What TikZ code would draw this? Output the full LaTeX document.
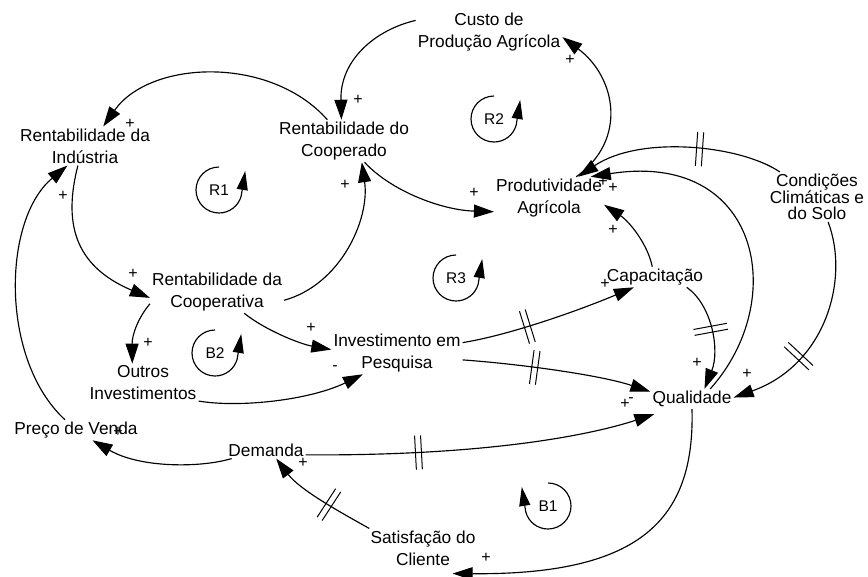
\documentclass[tikz,border=0pt]{standalone}
\usepackage{fontspec}
\setmainfont{Liberation Sans}
\usepackage{tikz}
\usetikzlibrary{arrows.meta}
\usetikzlibrary{decorations.markings}

\begin{document}
\begin{tikzpicture}[x=1pt, y=1pt,
    var/.style={inner sep=2pt, align=center, font=\fontsize{17.3}{22}\selectfont},
    sign/.style={inner sep=0pt, font=\fontsize{16}{18}\selectfont},
    looplabel/.style={inner sep=0pt, font=\fontsize{15.5}{18}\selectfont},
    link/.style={line width=1.15pt, -{Triangle[length=20pt, width=13pt]}},
    loopline/.style={line width=1.15pt, -{Triangle[length=19pt, width=11pt]}},
    delaymark/.style={postaction={decorate, decoration={markings,
        mark=at position #1 with {\draw[-, line width=1pt] (-3,-17) -- (-3,17) (3,-17) -- (3,17);}}}}]

    \fill[white] (0,0) rectangle (868,-576);
    \useasboundingbox (0,0) rectangle (868,-576);

    \node[var] (ind) at (85,-146) {Rentabilidade da\\Indústria};
    \node[var] (coop) at (344,-141) {Rentabilidade do\\Cooperado};
    \node[var] (custo) at (489,-32) {Custo de\\Produção Agrícola};
    \node[var] (prod) at (549,-198) {Produtividade\\Agrícola};
    \node[var, font=\fontsize{17.3}{16.5}\selectfont] (clima) at (817,-197) {Condições\\Climáticas e\\do Solo};
    \node[var] (coopva) at (217,-292) {Rentabilidade da\\Cooperativa};
    \node[var] (outros) at (143,-383) {Outros\\Investimentos};
    \node[var] (pesq) at (397,-353) {Investimento em\\Pesquisa};
    \node[var] (capac) at (655,-277) {Capacitação};
    \node[var] (qual) at (692,-399) {Qualidade};
    \node[var] (preco) at (76,-430) {Preço de Venda};
    \node[var] (dem) at (266,-450) {Demanda};
    \node[var] (sat) at (423,-548) {Satisfação do\\Cliente};

    \draw[link] (coop.128) .. controls (270,-55) and (150,-60) .. (ind.47);
    \draw[link] (custo.171) .. controls (375,-30) and (340,-60) .. (coop.97);
    \draw[link] (prod.38) .. controls (628,-140) and (616,-77) .. (custo.-4);
    \draw[link] (ind.250) .. controls (64,-220) and (72,-265) .. (coopva.185);
    \draw[link] (preco.137) .. controls (0,-360) and (2,-220) .. (ind.228);
    \draw[link] (coopva.353) .. controls (340,-285) and (370,-220) .. (coop.310);
    \draw[link] (coop.314) .. controls (390,-190) and (440,-210) .. (prod.194);
    \draw[link] (coopva.190) .. controls (138,-318) and (132,-335) .. (outros.119);
    \draw[link] (coopva.322) .. controls (265,-330) and (300,-344) .. (pesq.177);
    \draw[link] (outros.342) .. controls (240,-408) and (310,-400) .. (pesq.212);
    \draw[link, delaymark=0.37] (pesq.9) .. controls (510,-335) and (580,-310) .. (capac.206);
    \draw[link, delaymark=0.38] (pesq.354) .. controls (520,-364) and (600,-375) .. (qual.170);
    \draw[link, delaymark=0.32] (dem.353) .. controls (500,-456) and (600,-432) .. ([shift={(4,-5)}]qual.south west);
    \draw[link] (capac.105) .. controls (648,-245) and (630,-222) .. (prod.353);
    \draw[link, delaymark=0.45] (capac.342) .. controls (712,-305) and (720,-350) .. (qual.39);
    \draw[link] (qual.29) .. controls (790,-300) and (760,-150) .. (prod.27);
    \draw[link, delaymark=0.4] (clima.146) .. controls (740,-145) and (640,-135) .. (prod.36);
    \draw[link, delaymark=0.65] (clima.294) .. controls (850,-280) and (825,-365) .. (qual.2);
    \draw[link] (qual.270) .. controls (695,-520) and (640,-575) .. ([shift={(-25,-6)}]sat.south east);
    \draw[link, delaymark=0.4] (sat.160) .. controls (340,-512) and (300,-490) .. (dem.320);
    \draw[link] (dem.194) .. controls (200,-468) and (140,-468) .. (preco.328);

    \node[sign] (s1) at (130,-124) {+};
    \node[sign] (s2) at (358,-100) {+};
    \node[sign] (s3) at (570,-60) {+};
    \node[sign] (s4) at (133,-274) {+};
    \node[sign] (s5) at (63,-196) {+};
    \node[sign] (s6) at (345,-185) {+};
    \node[sign] (s7) at (474,-193) {+};
    \node[sign] (s8) at (148,-343) {+};
    \node[sign] (s9) at (311,-328) {+};
    \node[sign] (s10) at (335,-368) {-};
    \node[sign] (s11) at (605,-284) {+};
    \node[sign] (s12) at (625,-404) {+};
    \node[sign] (s13) at (631,-400) {-};
    \node[sign] (s14) at (613,-230) {+};
    \node[sign] (s15) at (697,-363) {+};
    \node[sign] (s16) at (603,-182) {+};
    \node[sign] (s17) at (613,-188) {+};
    \node[sign] (s18) at (747,-374) {+};
    \node[sign] (s19) at (486,-558) {+};
    \node[sign] (s20) at (303,-463) {+};
    \node[sign] (s21) at (118,-432) {+};

    \node[looplabel] (r1) at (219,-190) {R1};
    \node[looplabel] (r2) at (494,-119) {R2};
    \node[looplabel] (r3) at (456,-278) {R3};
    \node[looplabel] (b2) at (215,-353) {B2};
    \node[looplabel] (b1) at (548,-506) {B1};

    \draw[loopline] ([yshift=23pt]r1.center) arc[start angle=90, end angle=345, radius=23] -- ++(4,25);
    \draw[loopline] ([yshift=23pt]r2.center) arc[start angle=90, end angle=345, radius=23] -- ++(4,25);
    \draw[loopline] ([yshift=23pt]r3.center) arc[start angle=90, end angle=345, radius=23] -- ++(4,25);
    \draw[loopline] ([yshift=23pt]b2.center) arc[start angle=90, end angle=345, radius=23] -- ++(4,25);
    \draw[loopline] ([yshift=23pt]b1.center) arc[start angle=90, end angle=-165, radius=23] -- ++(-4,25);

\end{tikzpicture}
\end{document}
